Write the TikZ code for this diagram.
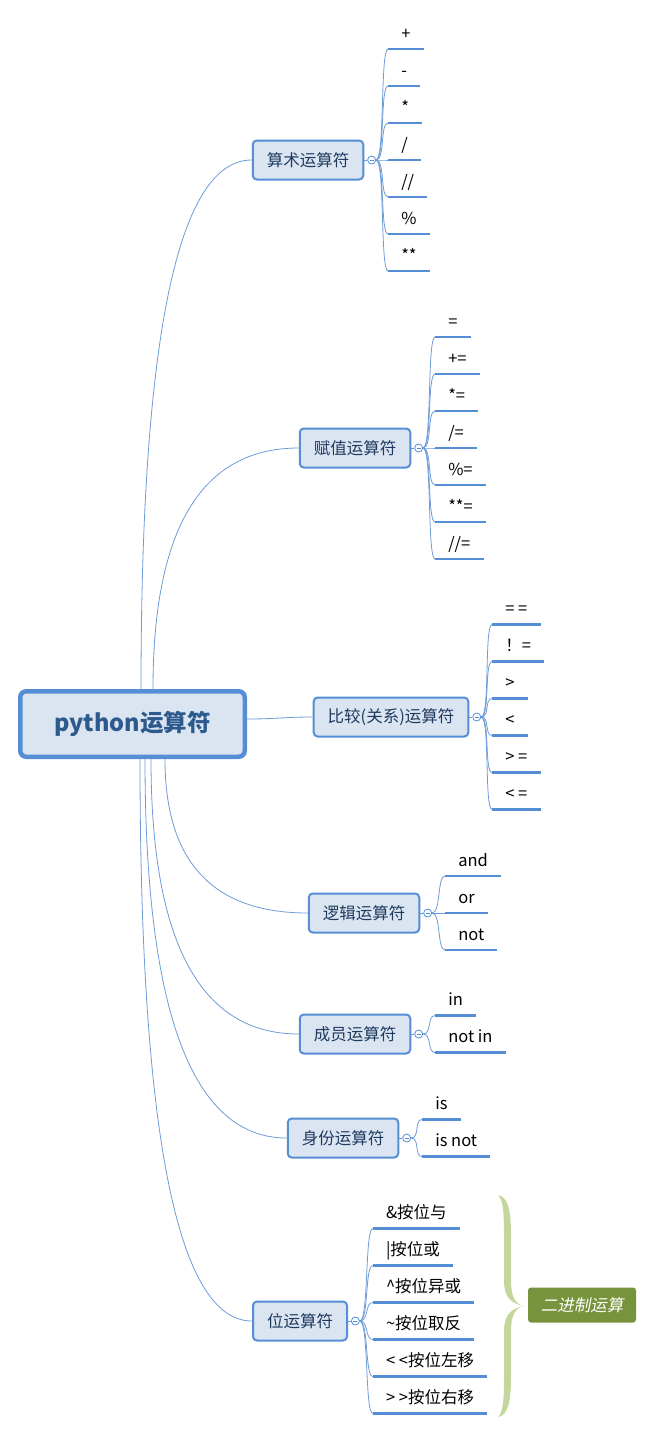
\documentclass[tikz,border=0pt]{standalone}
\usepackage{fontspec}
\setmainfont{Noto Sans CJK SC}
\newfontfamily\slantfont[FakeSlant=0.2]{Noto Sans CJK SC}
\usepackage{tikz}
\usetikzlibrary{positioning,calc}
\definecolor{mapline}{HTML}{558ED5}
\definecolor{mapfill}{HTML}{DBE5F1}
\definecolor{roottext}{HTML}{2C5A8C}
\definecolor{branchtext}{HTML}{1F3A5F}
\definecolor{linkline}{HTML}{6C9BD9}
\definecolor{bracegreen}{HTML}{C3D69B}
\definecolor{tagolive}{HTML}{77933C}

\begin{document}
\begin{tikzpicture}[x=1pt, y=-1pt,
  root/.style={draw=mapline, line width=4.5pt, fill=mapfill, rounded corners=6pt, minimum width=224.5pt, minimum height=65.5pt, font=\fontsize{23.5}{28}\selectfont\bfseries, text=roottext},
  branch/.style={draw=mapline, line width=2pt, fill=mapfill, rounded corners=4pt, inner xsep=14pt, minimum height=39pt, font=\fontsize{16.5}{20}\selectfont, text=branchtext},
  fold/.style={circle, draw=mapline, fill=white, line width=0.8pt, minimum size=8pt, inner sep=0pt, right=3pt of #1,
    path picture={\draw[mapline, line width=0.6pt] ([xshift=-2pt]path picture bounding box.center) -- ([xshift=2pt]path picture bounding box.center);}},
  leaf/.style={anchor=base west, inner xsep=13pt, inner ysep=0pt, font=\fontsize{16.5}{20}\selectfont},
  link/.style={draw=linkline, line width=0.8pt},
  underline/.style={draw=mapline, line width=2.6pt},
  tag/.style={fill=tagolive, rounded corners=3pt, minimum width=108pt, minimum height=35pt, text=white, font=\fontsize{16.5}{20}\selectfont\slantfont},
  halfbrace/.pic={
    \fill[bracegreen] (-25,-111) .. controls (-15,-109) and (-12,-96) .. (-12,-71) -- (-12,-26)
      .. controls (-12,-9) and (-8,-2) .. (1,0) .. controls (-13,-3) and (-19,-9) .. (-19,-26)
      -- (-19,-71) .. controls (-19,-95) and (-20,-106) .. (-25,-111) -- cycle;}]
\useasboundingbox (0,0) rectangle (652,1436);
% centre
\node[root] (root) at (132.5,724) {python运算符};
% main branches
\node[branch] (suanshu) at (308,160) {算术运算符};
\node[branch] (fuzhi) at (355,448) {赋值运算符};
\node[branch] (bijiao) at (391,717) {比较(关系)运算符};
\node[branch] (luoji) at (364,913) {逻辑运算符};
\node[branch] (chengyuan) at (355,1034) {成员运算符};
\node[branch] (shenfen) at (343,1138) {身份运算符};
\node[branch] (wei) at (300,1321) {位运算符};
\foreach \b/\dx in {suanshu/123, fuzhi/135} {
  \coordinate (s) at ([xshift=\dx pt]root.north west);
  \coordinate (k) at (s |- \b.west);
  \draw[link] (s) .. controls ($(s)!2/3!(k)$) and ($(\b.west)!2/3!(k)$) .. (\b.west);
}
\foreach \b/\dx in {luoji/147, chengyuan/133, shenfen/127, wei/122} {
  \coordinate (s) at ([xshift=\dx pt]root.south west);
  \coordinate (k) at (s |- \b.west);
  \draw[link] (s) .. controls ($(s)!2/3!(k)$) and ($(\b.west)!2/3!(k)$) .. (\b.west);
}
\draw[link] ([yshift=5pt]root.east) .. controls +(30,0) and +(-30,0) .. (bijiao.west);
% fold buttons
\foreach \b in {suanshu, fuzhi, bijiao, luoji, chengyuan, shenfen, wei} {
  \node[fold=\b] (\b-f) {};
  \draw[link] (\b.east) -- (\b-f.west);
}
% leaves
\foreach \t [count=\i] in {+,-,*,/,//,\%,**} {
  \node[leaf] (suanshu-\i) at ($(suanshu-f.east)+(12,{(\i-4)*37-10})$) {\t};
  \draw[underline] ([yshift=-10pt]suanshu-\i.base west) -- ([yshift=-10pt]suanshu-\i.base east);
  \draw[link] (suanshu-f.east) .. controls +(9,0) and +(-8,0) .. ([yshift=-10pt]suanshu-\i.base west);
}
\foreach \t [count=\i] in {=,+=,*=,/=,\%=,**=,//=} {
  \node[leaf] (fuzhi-\i) at ($(fuzhi-f.east)+(12,{(\i-4)*37-10})$) {\t};
  \draw[underline] ([yshift=-10pt]fuzhi-\i.base west) -- ([yshift=-10pt]fuzhi-\i.base east);
  \draw[link] (fuzhi-f.east) .. controls +(9,0) and +(-8,0) .. ([yshift=-10pt]fuzhi-\i.base west);
}
\foreach \t [count=\i] in {= =,！=,>,<,> =,< =} {
  \node[leaf] (bijiao-\i) at ($(bijiao-f.east)+(11,{(\i-3.5)*37-10})$) {\t};
  \draw[underline] ([yshift=-10pt]bijiao-\i.base west) -- ([yshift=-10pt]bijiao-\i.base east);
  \draw[link] (bijiao-f.east) .. controls +(9,0) and +(-8,0) .. ([yshift=-10pt]bijiao-\i.base west);
}
\foreach \t [count=\i] in {and,or,not} {
  \node[leaf] (luoji-\i) at ($(luoji-f.east)+(13,{(\i-2)*37-10})$) {\t};
  \draw[underline] ([yshift=-10pt]luoji-\i.base west) -- ([yshift=-10pt]luoji-\i.base east);
  \draw[link] (luoji-f.east) .. controls +(9,0) and +(-8,0) .. ([yshift=-10pt]luoji-\i.base west);
}
\foreach \t [count=\i] in {in,not in} {
  \node[leaf] (chengyuan-\i) at ($(chengyuan-f.east)+(12,{(\i-1.5)*37-10})$) {\t};
  \draw[underline] ([yshift=-10pt]chengyuan-\i.base west) -- ([yshift=-10pt]chengyuan-\i.base east);
  \draw[link] (chengyuan-f.east) .. controls +(9,0) and +(-8,0) .. ([yshift=-10pt]chengyuan-\i.base west);
}
\foreach \t [count=\i] in {is,is not} {
  \node[leaf] (shenfen-\i) at ($(shenfen-f.east)+(11,{(\i-1.5)*37-10})$) {\t};
  \draw[underline] ([yshift=-10pt]shenfen-\i.base west) -- ([yshift=-10pt]shenfen-\i.base east);
  \draw[link] (shenfen-f.east) .. controls +(9,0) and +(-8,0) .. ([yshift=-10pt]shenfen-\i.base west);
}
\foreach \t [count=\i] in {\&按位与,|按位或,\^{}按位异或,\textasciitilde 按位取反,< <按位左移,> >按位右移} {
  \node[leaf] (wei-\i) at ($(wei-f.east)+(13,{(\i-3.5)*37-10})$) {\t};
  \draw[underline] ([yshift=-10pt]wei-\i.base west) -- ([yshift=-10pt]wei-\i.base east);
  \draw[link] (wei-f.east) .. controls +(9,0) and +(-8,0) .. ([yshift=-10pt]wei-\i.base west);
}
% brace and summary
\pic at (523,1306) {halfbrace};
\pic[yscale=-1] at (523,1306) {halfbrace};
\node[tag] (binary) at (582,1305) {二进制运算};
\end{tikzpicture}
\end{document}
